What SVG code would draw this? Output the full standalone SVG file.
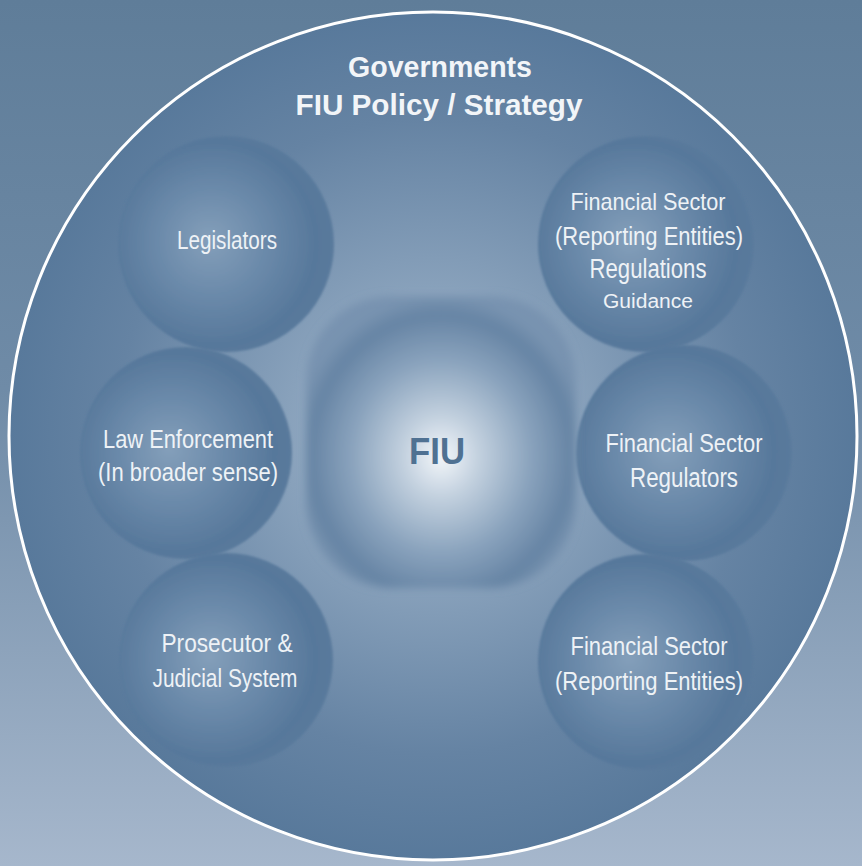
<svg xmlns="http://www.w3.org/2000/svg" width="862" height="866" viewBox="0 0 862 866">
  <defs>
    <linearGradient id="bg" x1="0" y1="0" x2="0" y2="1">
      <stop offset="0" stop-color="#5f7d99"/>
      <stop offset="0.45" stop-color="#6f8ba7"/>
      <stop offset="1" stop-color="#a6b7cc"/>
    </linearGradient>
    <radialGradient id="disc" cx="0.5" cy="0.5" r="0.5">
      <stop offset="0" stop-color="#a9bcd0"/>
      <stop offset="0.35" stop-color="#88a1bb"/>
      <stop offset="0.75" stop-color="#6583a3"/>
      <stop offset="1" stop-color="#58799b"/>
    </radialGradient>
    <radialGradient id="sphere" cx="0.45" cy="0.5" r="0.55" fx="0.42" fy="0.48">
      <stop offset="0" stop-color="#849fba"/>
      <stop offset="0.45" stop-color="#6b8aaa"/>
      <stop offset="0.85" stop-color="#57789b"/>
      <stop offset="1" stop-color="#5a7a9c"/>
    </radialGradient>
    <radialGradient id="blob" cx="0.5" cy="0.55" r="0.55">
      <stop offset="0" stop-color="#f4f7fa"/>
      <stop offset="0.25" stop-color="#c3d1df"/>
      <stop offset="0.6" stop-color="#8aa3bd"/>
      <stop offset="0.88" stop-color="#6684a4"/>
      <stop offset="1" stop-color="#7893b0"/>
    </radialGradient>
    <filter id="soft" x="-20%" y="-20%" width="140%" height="140%">
      <feGaussianBlur stdDeviation="4"/>
    </filter>
    <filter id="softS" x="-10%" y="-10%" width="120%" height="120%">
      <feGaussianBlur stdDeviation="1"/>
    </filter>
    <clipPath id="discClip"><circle cx="433" cy="436" r="424"/></clipPath>
  </defs>
  <style>
    .lbl { font-family: "Liberation Sans Narrow", "Liberation Sans", "DejaVu Sans Condensed", sans-serif; fill: #eef2f6; text-anchor: middle; }
    .ttl { font-family: "Liberation Sans", "DejaVu Sans", sans-serif; font-weight: bold; fill: #f2f5f8; text-anchor: middle; font-size: 29px; }
    .sph { fill: url(#sphere); }
  </style>

  <rect width="862" height="866" fill="url(#bg)"/>

  <g id="disc-group" clip-path="url(#discClip)">
    <circle cx="433" cy="436" r="424" fill="url(#disc)"/>
  </g>

  <g id="title">
    <text class="ttl" x="440" y="77" textLength="184" lengthAdjust="spacingAndGlyphs">Governments</text>
    <text class="ttl" x="439" y="115" textLength="287" lengthAdjust="spacingAndGlyphs">FIU Policy / Strategy</text>
  </g>

  <g id="legislators">
    <circle class="sph" cx="226" cy="244" r="108" filter="url(#softS)"/>
    <text class="lbl" x="227" y="249" font-size="25" textLength="100" lengthAdjust="spacingAndGlyphs">Legislators</text>
  </g>
  <g id="law-enforcement">
    <circle class="sph" cx="186" cy="453" r="106" filter="url(#softS)"/>
    <text class="lbl" x="188" y="448" font-size="25" textLength="170" lengthAdjust="spacingAndGlyphs">Law Enforcement</text>
    <text class="lbl" x="188" y="481" font-size="25" textLength="180" lengthAdjust="spacingAndGlyphs">(In broader sense)</text>
  </g>
  <g id="prosecutor">
    <circle class="sph" cx="226" cy="660" r="107" filter="url(#softS)"/>
    <text class="lbl" x="227" y="652" font-size="25" textLength="131" lengthAdjust="spacingAndGlyphs">Prosecutor &amp;</text>
    <text class="lbl" x="225" y="687" font-size="25" textLength="145" lengthAdjust="spacingAndGlyphs">Judicial System</text>
  </g>
  <g id="fs-regulations">
    <circle class="sph" cx="646" cy="244" r="108" filter="url(#softS)"/>
    <text class="lbl" x="648" y="210" font-size="24" textLength="155" lengthAdjust="spacingAndGlyphs">Financial Sector</text>
    <text class="lbl" x="649" y="245" font-size="25" textLength="188" lengthAdjust="spacingAndGlyphs">(Reporting Entities)</text>
    <text class="lbl" x="648" y="278" font-size="27" textLength="117" lengthAdjust="spacingAndGlyphs">Regulations</text>
    <text class="lbl" x="648" y="308" font-size="20" textLength="90" lengthAdjust="spacingAndGlyphs">Guidance</text>
  </g>
  <g id="fs-regulators">
    <circle class="sph" cx="684" cy="453" r="108" filter="url(#softS)"/>
    <text class="lbl" x="684" y="452" font-size="25" textLength="157" lengthAdjust="spacingAndGlyphs">Financial Sector</text>
    <text class="lbl" x="684" y="487" font-size="27" textLength="108" lengthAdjust="spacingAndGlyphs">Regulators</text>
  </g>
  <g id="fs-reporting">
    <circle class="sph" cx="646" cy="662" r="108" filter="url(#softS)"/>
    <text class="lbl" x="649" y="655" font-size="25" textLength="157" lengthAdjust="spacingAndGlyphs">Financial Sector</text>
    <text class="lbl" x="649" y="690" font-size="25" textLength="188" lengthAdjust="spacingAndGlyphs">(Reporting Entities)</text>
  </g>

  <g id="fiu">
    <rect x="306" y="296" width="270" height="292" rx="85" ry="85" fill="url(#blob)" filter="url(#soft)"/>
    <text x="437" y="464" font-family="'Liberation Sans', 'DejaVu Sans', sans-serif" font-weight="bold" font-size="37" fill="#4f7192" text-anchor="middle" textLength="56" lengthAdjust="spacingAndGlyphs">FIU</text>
  </g>

  <g id="connectors"></g>

  <circle id="rim" cx="433" cy="436" r="424" fill="none" stroke="#ffffff" stroke-width="3"/>
</svg>
